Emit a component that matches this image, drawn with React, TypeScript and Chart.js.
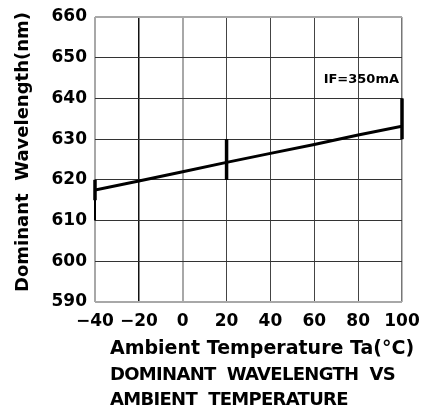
import React, { useEffect, useRef } from "react";
import { Chart, registerables } from "chart.js";

Chart.register(...registerables);

const temps = [-40, -20, 0, 20, 40, 60, 80, 100];
const wavelength = [617.5, 619.7, 622.0, 624.3, 626.5, 628.7, 631.0, 633.2];
const xTickLabels = ["\u221240", "\u221220", "0", "20", "40", "60", "80", "100"];
const errTemps = [-40, 20, 100];
const errLow = [610, 620, 630];
const errHigh = [620, 630, 640];
const errThickFrom = [615, 620, 630];
const yTitle = "Dominant  Wavelength(nm)";
const xTitle = "Ambient Temperature Ta(\u00b0C)";
const captionLines = ["DOMINANT  WAVELENGTH  VS", "AMBIENT  TEMPERATURE"];
const annotation = "IF=350mA";

const FONT = "'DejaVu Sans', sans-serif";

export default function App() {
  const ref = useRef<HTMLCanvasElement | null>(null);
  useEffect(() => {
    if (!ref.current) return;
    const datasets: any[] = [
      {
        data: temps.map((t, i) => ({ x: t, y: wavelength[i] })),
        borderColor: "#000",
        borderWidth: 3,
        pointRadius: 0,
        tension: 0,
      },
    ];
    errTemps.forEach((t, i) => {
      datasets.push({
        data: [
          { x: t, y: errLow[i] },
          { x: t, y: errHigh[i] },
        ],
        borderColor: "#000",
        borderWidth: 2,
        pointRadius: 0,
        clip: false,
      });
      datasets.push({
        data: [
          { x: t, y: errThickFrom[i] },
          { x: t, y: errHigh[i] },
        ],
        borderColor: "#000",
        borderWidth: 3.5,
        pointRadius: 0,
        clip: false,
      });
    });

    const textPlugin = {
      id: "texts",
      afterDraw(chart: any) {
        const ctx = chart.ctx;
        const x = chart.scales.x;
        const y = chart.scales.y;
        ctx.save();
        ctx.fillStyle = "#000";
        ctx.font = `bold 13px ${FONT}`;
        ctx.textAlign = "right";
        ctx.textBaseline = "middle";
        ctx.fillText(annotation, x.getPixelForValue(100) - 3, y.getPixelForValue(644.6));
        const left = chart.chartArea.left + 15;
        ctx.textAlign = "left";
        ctx.textBaseline = "alphabetic";
        ctx.font = `bold 19px ${FONT}`;
        ctx.fillText(xTitle, left, 354);
        ctx.font = `bold 18px ${FONT}`;
        (ctx as any).letterSpacing = "-0.7px";
        ctx.fillText(captionLines[0], left, 380);
        ctx.fillText(captionLines[1], left, 405);
        (ctx as any).letterSpacing = "0px";
        ctx.translate(23, 152);
        ctx.rotate(-Math.PI / 2);
        ctx.textAlign = "center";
        ctx.textBaseline = "middle";
        ctx.font = `bold 18px ${FONT}`;
        ctx.fillText(yTitle, 0, 0);
        ctx.restore();
      },
    };

    const xGrid = (v: number) => {
      if (v === -40 || v === 0) return { c: "#a8a8a8", w: 2 };
      if (v === -20) return { c: "#111", w: 1.5 };
      if (v === 100) return { c: "#777", w: 1.5 };
      return { c: "#444", w: 1 };
    };
    const yGrid = (v: number) => {
      if (v === 590 || v === 660) return { c: "#a8a8a8", w: 2 };
      return { c: "#333", w: 1 };
    };

    const chart = new Chart(ref.current, {
      type: "line",
      data: { datasets },
      options: {
        animation: false,
        responsive: true,
        maintainAspectRatio: false,
        layout: { padding: { left: 0, right: 22, top: 17, bottom: 0 } },
        plugins: {
          legend: { display: false },
          tooltip: { enabled: false },
        },
        scales: {
          x: {
            type: "linear",
            min: -40,
            max: 100,
            afterBuildTicks: (s: any) => {
              s.ticks = temps.map((v) => ({ value: v }));
            },
            afterFit: (s: any) => {
              s.height = 107;
              s.paddingLeft = 0;
              s.paddingRight = 0;
            },
            border: { display: false },
            grid: {
              drawTicks: false,
              color: (c: any) => xGrid(c.tick.value).c,
              lineWidth: (c: any) => xGrid(c.tick.value).w,
            },
            ticks: {
              padding: 9,
              color: "#000",
              font: { family: FONT, size: 17, weight: "bold" },
              callback: (v: any) => xTickLabels[temps.indexOf(Number(v))] ?? "",
              maxRotation: 0,
              autoSkip: false,
            },
          },
          y: {
            type: "linear",
            min: 590,
            max: 660,
            afterFit: (s: any) => {
              s.width = 95;
              s.paddingTop = 0;
              s.paddingBottom = 0;
            },
            border: { display: false },
            grid: {
              drawTicks: false,
              color: (c: any) => yGrid(c.tick.value).c,
              lineWidth: (c: any) => yGrid(c.tick.value).w,
            },
            ticks: {
              stepSize: 10,
              padding: 8,
              color: "#000",
              font: { family: FONT, size: 17, weight: "bold" },
            },
          },
        },
      },
      plugins: [textPlugin],
    });
    return () => chart.destroy();
  }, []);
  return (
    <div style={{ position: "absolute", left: 0, top: 0, width: 424, height: 409, background: "#fff" }}>
      <canvas ref={ref} />
    </div>
  );
}
